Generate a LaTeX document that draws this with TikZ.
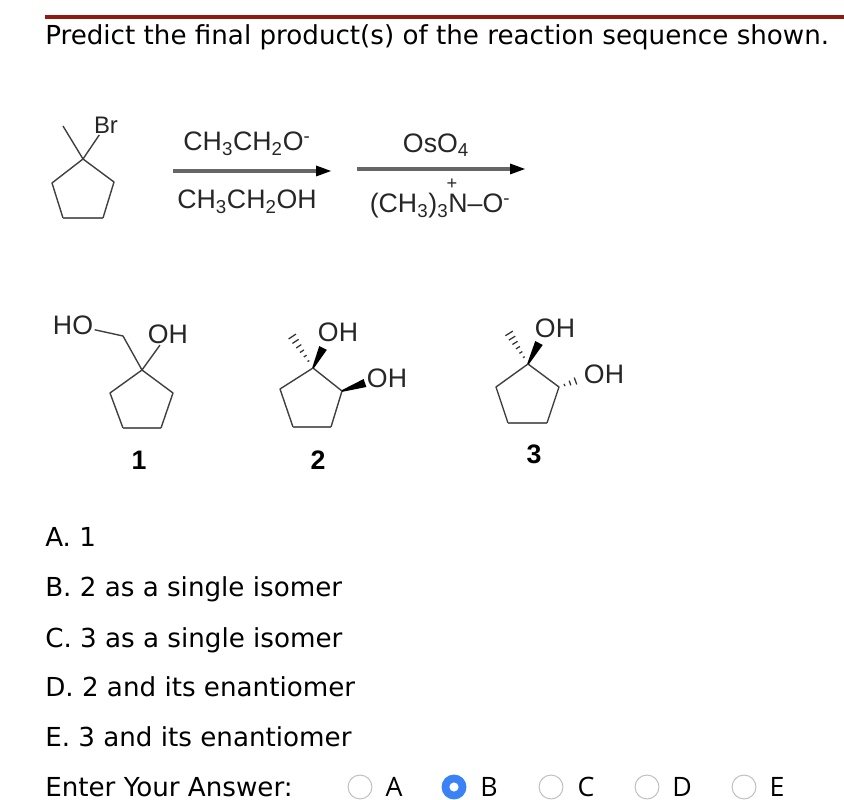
\documentclass[tikz,border=0pt]{standalone}
\usepackage{fontspec}
\setmainfont{DejaVu Sans}
\newfontfamily\chemfont{Liberation Sans}
\newfontfamily\radiofont{Open Sans}
\usetikzlibrary{calc}

\definecolor{barred}{HTML}{8E1A10}
\definecolor{radioblue}{HTML}{3B82F6}

\tikzset{
	bond/.style={draw=black!75,line width=1pt,line join=round},
	basebond/.style={draw=black!60,line width=1.7pt},
	rxnarrow/.style={draw=black!60,line width=2.2pt},
	rxntip/.style={fill=black,draw=none},
	chem/.style={font=\chemfont\fontsize{19}{20}\selectfont,text=black!85,inner sep=1pt},
	cpdnum/.style={font=\chemfont\bfseries\fontsize{19}{20}\selectfont,inner sep=1pt},
	question/.style={font=\fontsize{18.6}{24}\selectfont,anchor=base west,inner sep=0pt},
	radio/.style={circle,draw=black!25,fill=white,line width=.7pt,minimum size=17pt,inner sep=0pt},
	radiotext/.style={font=\radiofont\fontsize{19}{24}\selectfont,inner sep=0pt}
}

% five ring corners: a top, b left, c lower left, d lower right, e right
\newcommand{\ringbonds}[1]{
	\draw[bond] (#1a) -- (#1b) -- (#1c);
	\draw[basebond] (#1c) -- (#1d);
	\draw[bond] (#1d) -- (#1e) -- (#1a);
}
\newcommand{\wedgebond}[2]{
	\fill[black] ($(#1)!.6pt!90:(#2)$) -- ($(#2)!3pt!-90:(#1)$) -- ($(#2)!3pt!90:(#1)$) -- ($(#1)!.6pt!-90:(#2)$) -- cycle;
}
\newcommand{\hashbond}[4]{
	\foreach \t [evaluate=\t as \w using #3*\t] in {#4} {
		\coordinate (hashpt) at ($(#1)!\t!(#2)$);
		\draw[black!80,line width=.9pt] ($(hashpt)!\w pt!90:(#2)$) -- ($(hashpt)!\w pt!-90:(#2)$);
	}
}

\begin{document}
\begin{tikzpicture}[x=.025cm,y=-.025cm]
	\useasboundingbox (0,0) rectangle (844,800);

	% header
	\fill[barred] (45,15) rectangle (844,19);
	\node[question] (title) at (45,45) {Predict the final product(s) of the reaction sequence shown.};

	% starting material
	\foreach \n/\x/\y in {a/83/159,b/52/183,c/63/218,d/103/218,e/114/182}
		\coordinate (r0\n) at (\x,\y);
	\coordinate (me0) at (63,126);
	\node[chem,font=\chemfont\fontsize{17}{18}\selectfont] (br0) at (106,125) {Br};
	\ringbonds{r0}
	\draw[bond] (r0a) -- (me0);
	\draw[bond] (r0a) -- (br0);

	% reaction arrows
	\coordinate (arr1a) at (173,171);
	\coordinate (arr1b) at (316,171);
	\coordinate (arr1c) at (331,171);
	\coordinate (arr2a) at (357,169);
	\coordinate (arr2b) at (510,169);
	\coordinate (arr2c) at (525,169);
	\draw[rxnarrow] (arr1a) -- (arr1b);
	\draw[rxnarrow] (arr2a) -- (arr2b);
	\fill[rxntip] (arr1b) ++(0,-5.5) -- (arr1c) -- ($(arr1b)+(0,5.5)$) -- cycle;
	\fill[rxntip] (arr2b) ++(0,-5.5) -- (arr2c) -- ($(arr2b)+(0,5.5)$) -- cycle;
	\node[chem] (reag1) at (247,144) {CH\textsubscript{3}CH\textsubscript{2}O\textsuperscript{-}};
	\node[chem] (solv1) at (247,202) {CH\textsubscript{3}CH\textsubscript{2}OH};
	\node[chem] (reag2) at (436,145) {OsO\textsubscript{4}};
	\node[chem] (reag3) at (440,206) {(CH\textsubscript{3})\textsubscript{3}N\textendash O\textsuperscript{-}};
	\node[chem,font=\chemfont\fontsize{13}{14}\selectfont,inner sep=0pt] (plus) at (452,184) {+};

	% compound 1
	\foreach \n/\x/\y in {a/142/370,b/110/393,c/123/428,d/161/428,e/173/393}
		\coordinate (r1\n) at (\x,\y);
	\coordinate (ch1) at (123,336);
	\node[chem] (ho1) at (73,325) {HO};
	\node[chem] (oh1) at (168,334) {OH};
	\ringbonds{r1}
	\draw[bond] (r1a) -- (ch1) -- (ho1);
	\draw[bond] (r1a) -- (oh1);
	\node[cpdnum] (num1) at (139,460) {1};

	% compound 2
	\foreach \n/\x/\y in {a/313/368,b/280/389,c/293/427,d/331/427,e/342/391}
		\coordinate (r2\n) at (\x,\y);
	\coordinate (me2) at (290,333);
	\coordinate (we2a) at (323,348);
	\coordinate (we2b) at (365,383);
	\node[chem] (oh2a) at (338,332) {OH};
	\node[chem] (oh2b) at (387,378) {OH};
	\ringbonds{r2}
	\hashbond{r2a}{me2}{3.5}{.2,.34,.48,.62,.76,.9,1}
	\wedgebond{r2a}{we2a}
	\wedgebond{r2e}{we2b}
	\node[cpdnum] (num2) at (318,460) {2};

	% compound 3
	\foreach \n/\x/\y in {a/528/364,b/496/387,c/508/423,d/547/423,e/559/387}
		\coordinate (r3\n) at (\x,\y);
	\coordinate (me3) at (507,330);
	\coordinate (we3) at (539,343);
	\coordinate (ha3) at (581,379);
	\node[chem] (oh3a) at (555,328) {OH};
	\node[chem] (oh3b) at (604,374) {OH};
	\ringbonds{r3}
	\hashbond{r3a}{me3}{3.5}{.2,.34,.48,.62,.76,.9,1}
	\wedgebond{r3a}{we3}
	\hashbond{r3e}{ha3}{3.5}{.25,.5,.75,1}
	\node[cpdnum] (num3) at (534,454) {3};

	% choices
	\node[question] (optA) at (45,547) {A. 1};
	\node[question] (optB) at (45,597) {B. 2 as a single isomer};
	\node[question] (optC) at (45,647) {C. 3 as a single isomer};
	\node[question] (optD) at (45,696) {D. 2 and its enantiomer};
	\node[question] (optE) at (45,746) {E. 3 and its enantiomer};
	\node[question] (enter) at (45,796) {Enter Your Answer:};

	% radio buttons
	\foreach \n/\x/\tx in {A/360/394,C/551/586,D/647/682,E/744/777} {
		\node[radio] (rad\n) at (\x,787) {};
		\node[radiotext] (lab\n) at (\tx,787) {\n};
	}
	\node[radio,draw=radioblue,fill=radioblue] (radB) at (454,787) {};
	\node[circle,fill=white,minimum size=6.5pt,inner sep=0pt] (dotB) at (radB) {};
	\node[radiotext] (labB) at (489,787) {B};
\end{tikzpicture}
\end{document}
